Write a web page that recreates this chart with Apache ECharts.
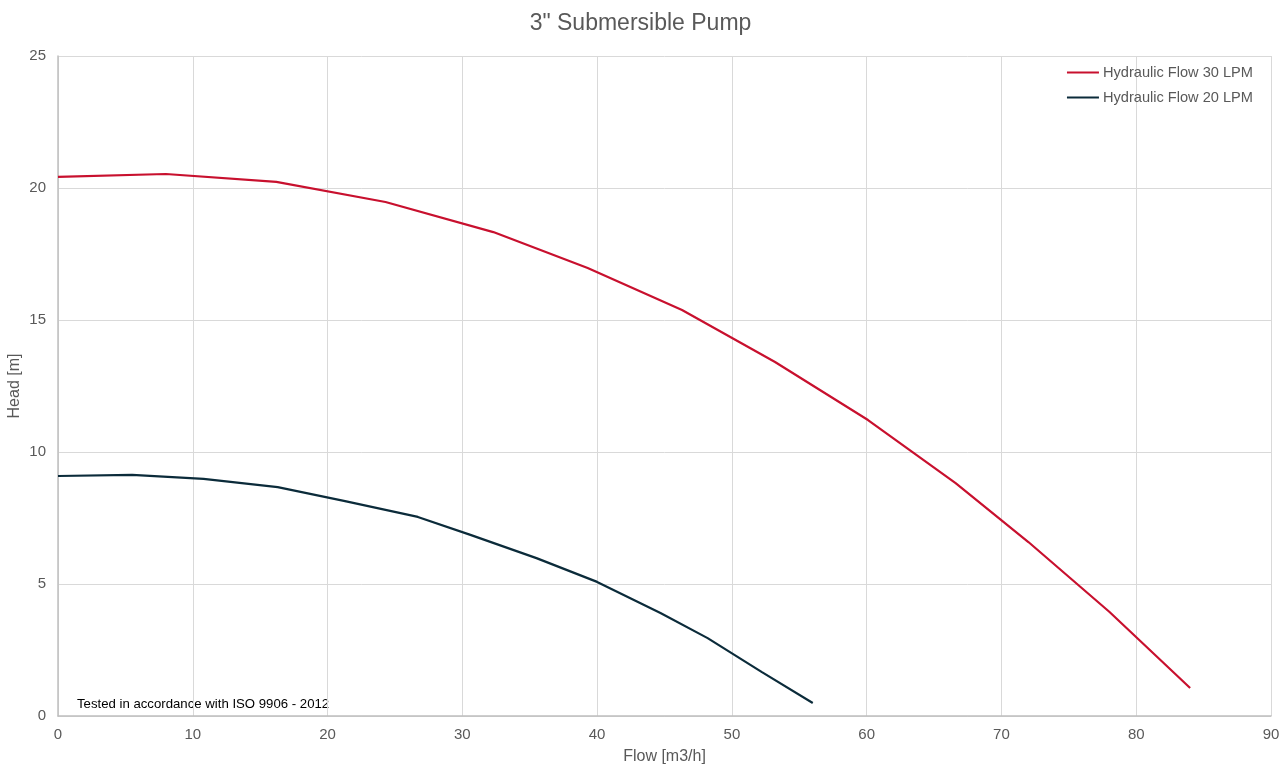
<!DOCTYPE html>
<html><head><meta charset="utf-8">
<script src="https://cdn.jsdelivr.net/npm/echarts@6/dist/echarts.min.js"></script>
<style>html,body{margin:0;padding:0;background:#fff;overflow:hidden}#c{width:100vw;height:100vh}</style>
</head><body><div id="c"></div>
<script>
var titleText = '3" Submersible Pump';
var seriesNames = ['Hydraulic Flow 30 LPM', 'Hydraulic Flow 20 LPM'];
var flow30 = [0, 8.0, 16.2, 24.3, 32.3, 39.3, 46.3, 53.2, 60.1, 66.6, 72.0, 78.0, 84.0];
var head30 = [20.42, 20.53, 20.23, 19.47, 18.33, 16.97, 15.38, 13.41, 11.21, 8.82, 6.59, 3.95, 1.06];
var flow20 = [0, 5.5, 10.8, 16.3, 21.3, 26.7, 30.6, 35.5, 40.0, 44.7, 48.2, 52.2, 56.0];
var head20 = [9.09, 9.13, 8.98, 8.67, 8.14, 7.54, 6.86, 5.98, 5.08, 3.90, 2.95, 1.67, 0.49];
var xName = 'Flow [m3/h]';
var yName = 'Head [m]';
var note = 'Tested in accordance with ISO 9906 - 2012';

function pairs(xs, ys){ return xs.map(function(x,i){return [x, ys[i]];}); }

var chart = echarts.init(document.getElementById('c'));
var font = 'Arial, "Liberation Sans", sans-serif';
chart.setOption({
  animation: false,
  textStyle: {fontFamily: font},
  title: {text: titleText, left: 'center', top: 7,
    textStyle: {fontSize: 23, fontWeight: 'normal', color: '#595959', fontFamily: font}},
  legend: {
    data: seriesNames, orient: 'vertical', right: 23, top: 60, itemGap: 10,
    itemWidth: 32, itemHeight: 2, icon: 'rect',
    textStyle: {fontSize: 14.6, color: '#595959', padding: [0,0,0,-1]}
  },
  grid: {left: 58, right: 10, top: 56, bottom: 48, containLabel: false, outerBoundsMode: 'none'},
  xAxis: {
    type: 'value', min: 0, max: 90, interval: 10,
    name: xName, nameLocation: 'middle', nameGap: 33, nameMoveOverlap: false,
    nameTextStyle: {fontSize: 16, color: '#595959'},
    axisLine: {show: true, lineStyle: {color: '#bfbfbf', width: 1.5}},
    axisTick: {show: false},
    axisLabel: {fontSize: 15, color: '#595959', margin: 11},
    splitLine: {show: true, lineStyle: {color: '#d9d9d9', width: 1}}
  },
  yAxis: {
    type: 'value', min: 0, max: 25, interval: 5,
    name: yName, nameLocation: 'middle', nameGap: 35, nameRotate: 90, nameMoveOverlap: false,
    nameTextStyle: {fontSize: 16, color: '#595959'},
    axisLine: {show: true, lineStyle: {color: '#bfbfbf', width: 1.5}},
    axisTick: {show: false},
    axisLabel: {fontSize: 15, color: '#595959', margin: 12},
    splitLine: {show: true, lineStyle: {color: '#d9d9d9', width: 1}}
  },
  graphic: [{
    type: 'text', left: 77, bottom: 53,
    style: {text: note, fontSize: 13.2, fill: '#000', fontFamily: font}
  }],
  series: [
    {name: seriesNames[0], type: 'line', data: pairs(flow30, head30), showSymbol: false,
      lineStyle: {color: '#c8102e', width: 2.2}, itemStyle: {color: '#c8102e'}},
    {name: seriesNames[1], type: 'line', data: pairs(flow20, head20), showSymbol: false,
      lineStyle: {color: '#0b2b3a', width: 2.2}, itemStyle: {color: '#0b2b3a'}}
  ]
});
</script></body></html>
